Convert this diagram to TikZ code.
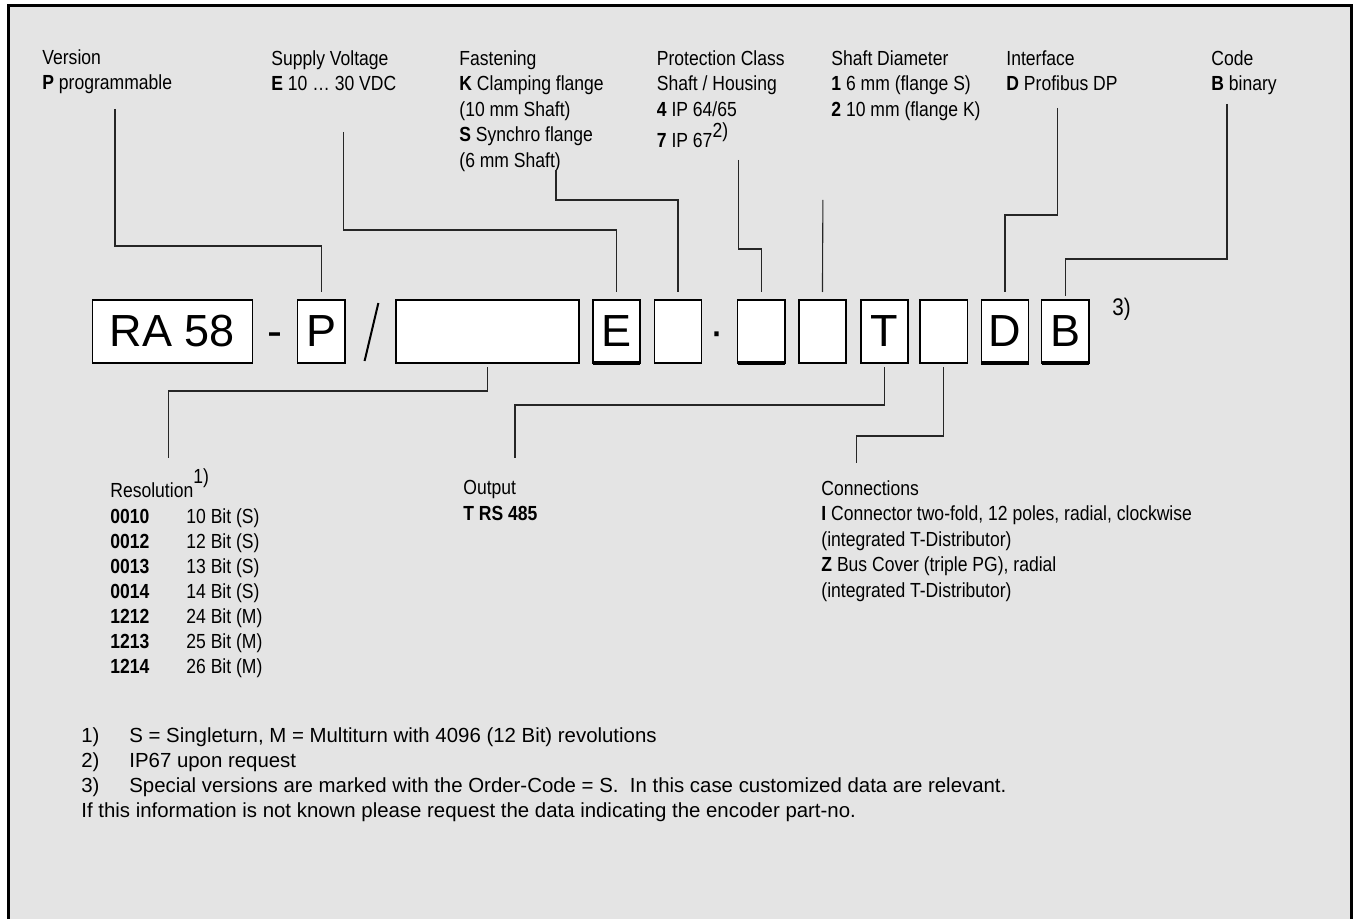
\documentclass[tikz,border=0pt]{standalone}
\usepackage{fontspec}
\setmainfont{Liberation Sans}
\newfontfamily\narrowfont{Liberation Sans}[FakeStretch=0.86]
\usetikzlibrary{positioning,calc}

\definecolor{panel}{HTML}{E4E4E4}
\newcommand\lblfont{\narrowfont\fontsize{10.2}{12.75}\selectfont}
\newcommand\notefont{\fontsize{10.2}{12.5}\selectfont}
\newcommand\boxfont{\fontsize{22.5}{27}\selectfont}

\tikzset{
 codebox/.style={draw, line width=0.8pt, fill=white, inner sep=0, outer sep=0,
   minimum width=23.6pt, minimum height=31.5pt, font=\boxfont},
 sym/.style={anchor=base, inner sep=0, font=\boxfont},
 lbl/.style={anchor=north west, inner sep=0, align=left, font=\lblfont},
 row/.style={anchor=base west, inner sep=0, font=\lblfont},
 leader/.style={line width=0.55pt, black!85},
}

\begin{document}
\begin{tikzpicture}[x=0.5pt, y=-0.5pt]
\useasboundingbox (0,0) rectangle (1358,919);

%Panel and frame
\fill[panel] (8,6) rectangle (1351,919);
\draw[line width=1.5pt] (8,919) -- (8,6) -- (1351,6) -- (1351,919);

%Code boxes
\node[codebox, minimum width=80pt] (ra) at (172.5,331.5) {RA 58};
\node[codebox, right=22.5pt of ra] (p) {P};
\node[codebox, minimum width=91.5pt, right=25.5pt of p] (res) {};
\node[codebox, right=7pt of res] (e) {E};
\node[codebox, right=7.25pt of e] (f) {};
\node[codebox, right=18pt of f] (pc) {};
\node[codebox, right=7pt of pc] (sd) {};
\node[codebox, right=7.5pt of sd] (t) {T};
\node[codebox, right=6pt of t] (cn) {};
\node[codebox, right=7pt of cn] (d) {D};
\node[codebox, right=6.5pt of d] (b) {B};

%Heavier bottom edges
\foreach \n in {e,pc,d,b}
 \draw[line width=1.6pt] (\n.south west) -- (\n.south east);

%Separators between the boxes
\node[sym] (dash) at ($(ra.base east)!0.5!(p.base west)$) {-};
\draw[line width=1pt] ($(p.north east)!0.66!(res.north west)+(0,3)$) -- ($(p.south east)!0.39!(res.south west)+(0,-2)$);
\coordinate (gap) at ($(f.east)!0.42!(pc.west)$);
\node[sym] (dot) at (gap |- e.base) {·};
\node[row, font=\narrowfont\fontsize{12}{14}\selectfont] (fn3) at (1112,315) {3)};

%Labels above
\node[lbl] (ver) at (42,49) {Version\\\textbf{P} programmable};
\node[lbl] (sup) at (271,50) {Supply Voltage\\\textbf{E} 10 … 30 VDC};
\node[lbl] (fas) at (459,50) {Fastening\\\textbf{K} Clamping flange\\(10 mm Shaft)\\\textbf{S} Synchro flange\\(6 mm Shaft)};
\node[lbl] (pro) at (656.5,50) {Protection Class\\Shaft / Housing\\\textbf{4} IP 64/65\\[3pt]\textbf{7} IP 67\raisebox{5pt}{2)}};
\node[lbl] (shd) at (831,50) {Shaft Diameter\\\textbf{1} 6 mm (flange S)\\\textbf{2} 10 mm (flange K)};
\node[lbl] (itf) at (1006,50) {Interface\\\textbf{D} Profibus DP};
\node[lbl] (cod) at (1211,50) {Code\\\textbf{B} binary};

%Leaders from the labels down to the boxes
\coordinate (verfoot) at (115,109);
\coordinate (supfoot) at (343.5,132);
\coordinate (fasfoot) at (556,170);
\coordinate (profoot) at (738.4,160);
\coordinate (shdfoot) at (822.9,200);
\coordinate (itffoot) at (1057.6,108);
\coordinate (codfoot) at (1227,104);

\draw[leader, shorten >=4pt] (verfoot) -- ++(0,137) -| (p.north);
\draw[leader, shorten >=4pt] (supfoot) -- ++(0,98) -| (e.north);
\draw[leader, shorten >=4pt] (fasfoot) -- ++(0,30) -| (f.north);
\draw[leader, shorten >=4pt] (profoot) -- ++(0,89) -| (pc.north);
\draw[leader, shorten >=4pt] (shdfoot) -- (sd.north);
\draw[leader, shorten >=4pt] (itffoot) -- ++(0,107) -| (d.north);
\draw[leader, shorten >=2pt] (codfoot) -- ++(0,155) -| (b.north);

%Labels below
\node[row] (resl) at (110,497) {Resolution\raisebox{7pt}{1)}};
\foreach \rcode/\rbits/\rkind [count=\i] in {0010/10/S,0012/12/S,0013/13/S,0014/14/S,1212/24/M,1213/25/M,1214/26/M}
 \node[row] (res\i) at (110,498+25*\i) {\makebox[38pt][l]{\textbf{\rcode}}\rbits\ Bit (\rkind)};

\node[lbl] (out) at (463,480) {Output\\\textbf{T RS 485}};
\node[lbl] (con) at (821,480) {Connections\\\textbf{I} Connector two-fold, 12 poles, radial, clockwise\\(integrated T-Distributor)\\\textbf{Z} Bus Cover (triple PG), radial\\(integrated T-Distributor)};

%Leaders from the boxes down to the labels
\coordinate (resfoot) at (168.5,458);
\coordinate (outfoot) at (515,458);
\coordinate (confoot) at (856.7,463);

\draw[leader, shorten <=2pt] (res.south) -- ++(0,28) -| (resfoot);
\draw[leader, shorten <=2pt] (t.south) -- ++(0,42) -| (outfoot);
\draw[leader, shorten <=2pt] (cn.south) -- ++(0,73) -| (confoot);

%Footnotes
\node[lbl, font=\notefont] (notes) at (81,727) {\makebox[24pt][l]{1)}S = Singleturn, M = Multiturn with 4096 (12 Bit) revolutions\\
\makebox[24pt][l]{2)}IP67 upon request\\
\makebox[24pt][l]{3)}Special versions are marked with the Order-Code = S.\ \ In this case customized data are relevant.\\
If this information is not known please request the data indicating the encoder part-no.};

\end{tikzpicture}
\end{document}
